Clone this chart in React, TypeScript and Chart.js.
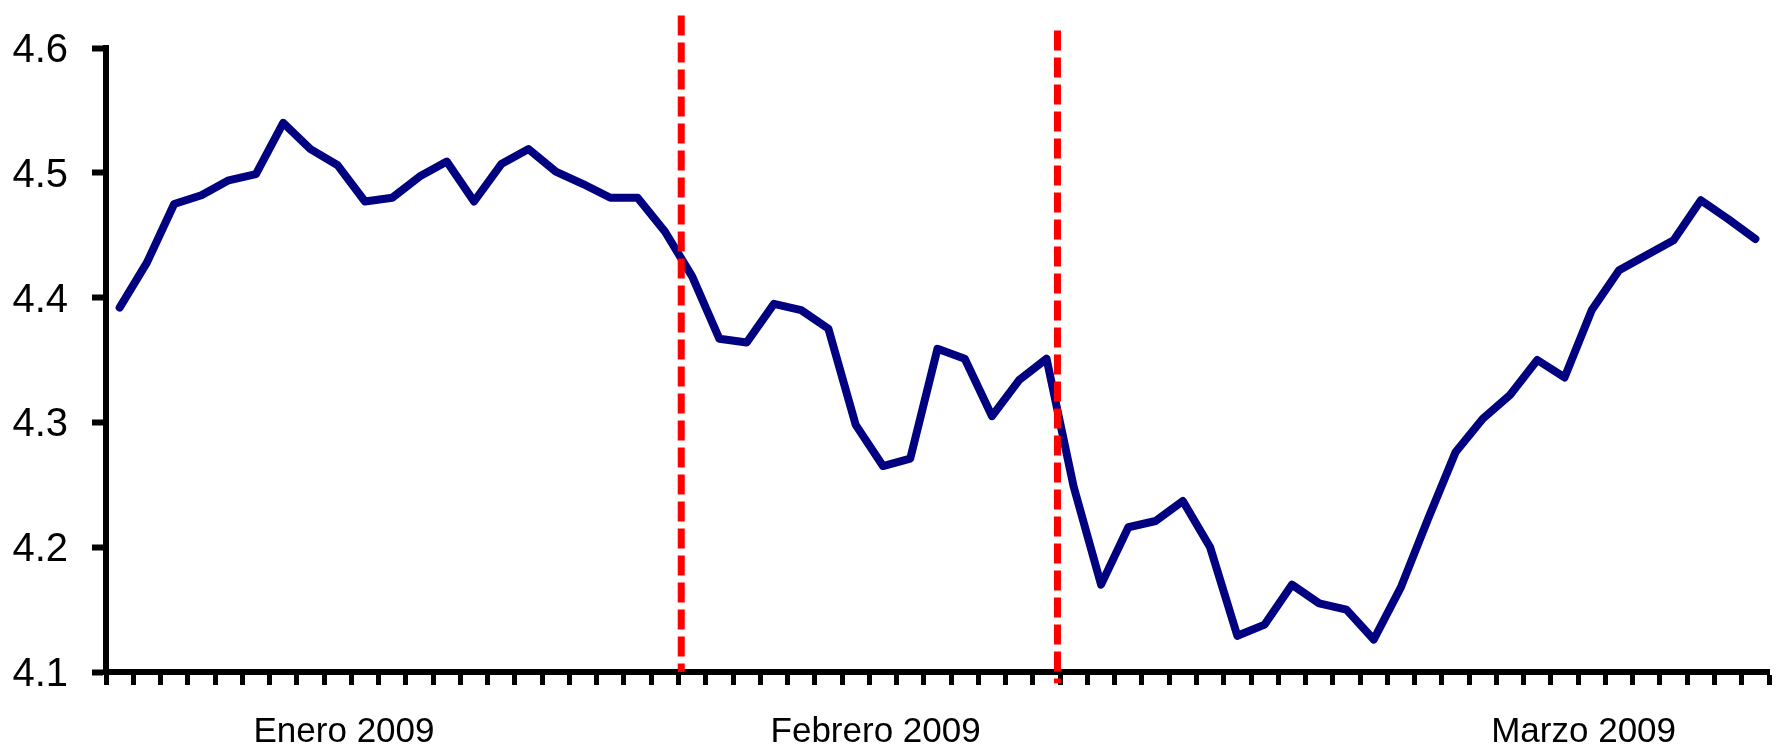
import React, { useEffect, useRef } from "react";
import { Chart, registerables } from "chart.js";

Chart.register(...registerables);

// Daily series, January - March 2009 (61 observations)
const seriesValues: number[] = [
  4.392, 4.428, 4.475, 4.482, 4.494, 4.499, 4.540, 4.519, 4.506, 4.477,
  4.480, 4.497, 4.509, 4.477, 4.507, 4.519, 4.501, 4.491, 4.480, 4.480,
  4.453, 4.417, 4.367, 4.364, 4.395, 4.390, 4.375, 4.298, 4.265, 4.271,
  4.359, 4.351, 4.305, 4.334, 4.351, 4.248, 4.170, 4.216, 4.221, 4.237,
  4.200, 4.129, 4.138, 4.170, 4.155, 4.150, 4.126, 4.168, 4.223, 4.276,
  4.303, 4.322, 4.350, 4.336, 4.390, 4.422, 4.434, 4.446, 4.478, 4.463,
  4.447,
];

const categories: string[] = seriesValues.map((_, i) => String(i + 1));

// Month labels and the category position they are centred on
const monthLabels: string[] = ["Enero 2009", "Febrero 2009", "Marzo 2009"];
const monthLabelAt: number[] = [8.23, 27.73, 53.7];

// Red dashed event markers: category position, top and bottom value
const markerAt: number[] = [20.6, 34.4];
const markerTop: number[] = [4.626, 4.614];
const markerBottom: number[] = [4.1, 4.091];

// Y axis
const yMin = 4.1;
const yMax = 4.6;
const yStep = 0.1;

const FONT = "'Liberation Sans', Arial, Helvetica, sans-serif";

export default function App() {
  const canvasRef = useRef<HTMLCanvasElement | null>(null);

  useEffect(() => {
    const canvas = canvasRef.current;
    if (!canvas) return;

    const overlay = {
      id: "overlay",
      afterDraw(chart: any) {
        const { ctx, scales, chartArea } = chart;
        const x = scales.x;
        const y = scales.y;
        ctx.save();
        // red dashed markers
        ctx.strokeStyle = "#FF0000";
        ctx.lineWidth = 7;
        ctx.setLineDash([20, 7]);
        ctx.lineCap = "butt";
        markerAt.forEach((pos, k) => {
          const px = x.getPixelForValue(pos);
          ctx.beginPath();
          ctx.moveTo(px, y.getPixelForValue(markerTop[k]));
          ctx.lineTo(px, y.getPixelForValue(markerBottom[k]));
          ctx.stroke();
        });
        ctx.setLineDash([]);
        // month labels
        ctx.fillStyle = "#000";
        ctx.font = `35px ${FONT}`;
        ctx.textAlign = "center";
        ctx.textBaseline = "alphabetic";
        monthLabels.forEach((txt, k) => {
          ctx.fillText(txt, x.getPixelForValue(monthLabelAt[k]), chartArea.bottom + 70);
        });
        ctx.restore();
      },
    };

    const chart = new Chart(canvas, {
      type: "line",
      data: {
        labels: categories,
        datasets: [
          {
            data: seriesValues,
            borderColor: "#000080",
            backgroundColor: "#000080",
            borderWidth: 8,
            pointRadius: 0,
            tension: 0,
            borderCapStyle: "round",
            borderJoinStyle: "round",
            fill: false,
          },
        ],
      },
      options: {
        responsive: false,
        animation: false,
        layout: { padding: { top: 43, right: 14, bottom: 0, left: 0 } },
        plugins: {
          legend: { display: false },
          tooltip: { enabled: false },
        },
        scales: {
          x: {
            type: "category",
            offset: true,
            afterFit: (scale: any) => {
              scale.height = 75;
            },
            grid: {
              offset: true,
              drawOnChartArea: false,
              drawTicks: true,
              tickLength: 13,
              tickWidth: 5,
              tickColor: "#000",
            },
            border: { display: true, color: "#000", width: 6 },
            ticks: { display: false, autoSkip: false },
          },
          y: {
            type: "linear",
            min: yMin,
            max: yMax,
            afterFit: (scale: any) => {
              scale.width = 106;
            },
            grid: {
              drawOnChartArea: false,
              drawTicks: true,
              tickLength: 14,
              tickWidth: 6,
              tickColor: "#000",
            },
            border: { display: true, color: "#000", width: 6 },
            ticks: {
              stepSize: yStep,
              color: "#000",
              padding: 24,
              labelOffset: 3,
              font: { family: FONT, size: 40 },
              callback: (v: any) => Number(v).toFixed(1),
            },
          },
        },
      },
      plugins: [overlay],
    });

    return () => {
      chart.destroy();
    };
  }, []);

  return (
    <div
      style={{
        position: "fixed",
        left: 0,
        top: 0,
        width: 1783,
        height: 747,
        background: "#fff",
      }}
    >
      <canvas ref={canvasRef} width={1783} height={747} style={{ display: "block" }} />
    </div>
  );
}
